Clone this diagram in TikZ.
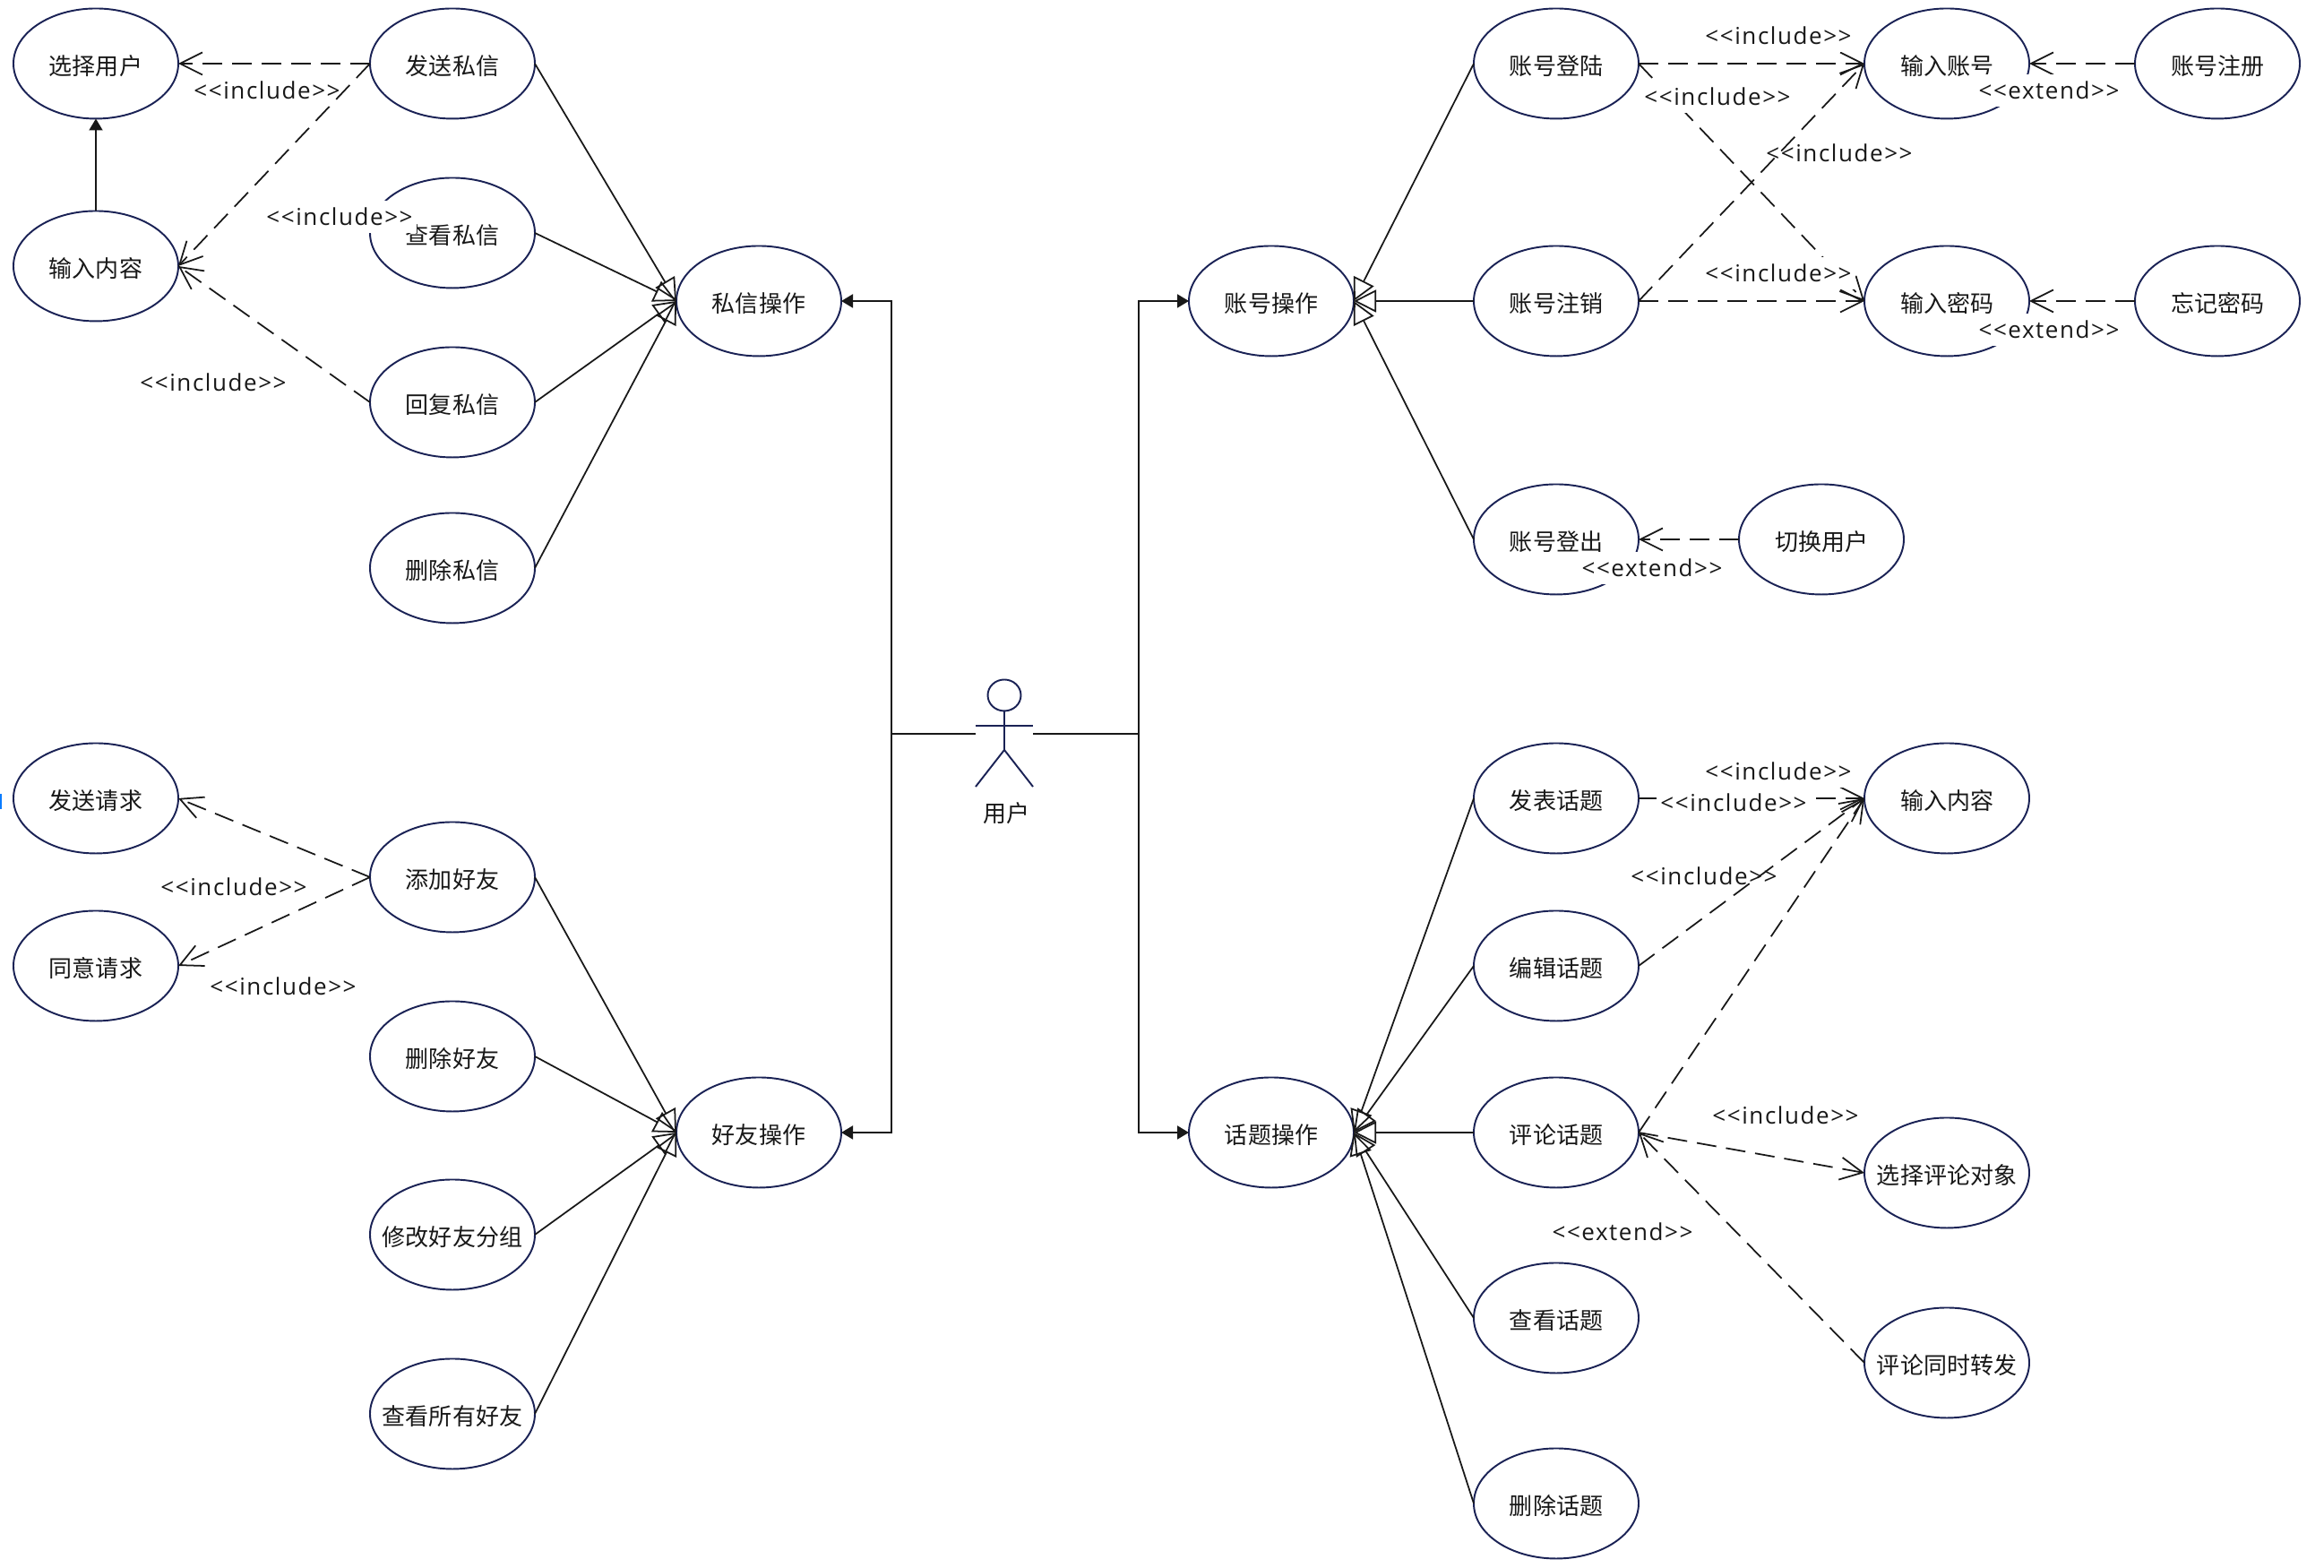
\documentclass[tikz,border=0pt]{standalone}
\usepackage{fontspec}
\setmainfont{Noto Sans CJK SC}
\newfontfamily\relfont[LetterSpace=6,Kerning=Off]{Open Sans}
\usepackage{tikz}
\usetikzlibrary{shapes.geometric,arrows.meta}
\definecolor{inkBlue}{RGB}{26,34,85}
\definecolor{inkText}{RGB}{24,24,24}
\definecolor{markBlue}{RGB}{10,124,255}

\begin{document}
\begin{tikzpicture}[font=\fontsize{7.4}{9}\selectfont,text=inkText,
  usecase/.style={ellipse,minimum width=1.84cm,minimum height=1.23cm,outer sep=0pt,
                  inner xsep=-.3cm,inner ysep=0pt,text height=.29cm,text depth=.03cm,
                  draw=inkBlue,line width=.55pt,fill=white},
  rel/.style={fill=white,inner xsep=.04cm,inner ysep=0pt,minimum height=.36cm,
              font=\fontsize{7.4}{9}\selectfont\relfont},
  dep/.style={inkText,line width=.5pt,dash pattern=on .22cm off .11cm,
              -{Straight Barb[length=.25cm,width=.25cm]}},
  gen/.style={inkText,line width=.5pt,-{Triangle[open,length=.25cm,width=.25cm]}},
  flow/.style={inkText,line width=.55pt,-{Triangle[length=.13cm,width=.15cm]}},
  body/.style={inkBlue,line width=.55pt}]

  \useasboundingbox (0,0) rectangle (25.94,17.5);
  \fill[markBlue] (0,8.47) rectangle (.02,8.64);

  % private messages
  \node[usecase] (selUser)  at (1.07,16.79) {选择用户};
  \node[usecase] (typeMsg)  at (1.07,14.53) {输入内容};
  \node[usecase] (sendMsg)  at (5.05,16.79) {发送私信};
  \node[usecase] (viewMsg)  at (5.05,14.90) {查看私信};
  \node[usecase] (replyMsg) at (5.05,13.01) {回复私信};
  \node[usecase] (delMsg)   at (5.05,11.16) {删除私信};
  \node[usecase] (msgOp)    at (8.47,14.14) {私信操作};

  % friends
  \node[usecase] (sendReq)   at (1.07,8.59) {发送请求};
  \node[usecase] (agreeReq)  at (1.07,6.72) {同意请求};
  \node[usecase] (addFriend) at (5.05,7.71) {添加好友};
  \node[usecase] (delFriend) at (5.05,5.71) {删除好友};
  \node[usecase] (moveGroup) at (5.05,3.72) {修改好友分组};
  \node[usecase] (allFriend) at (5.05,1.72) {查看所有好友};
  \node[usecase] (friendOp)  at (8.47,4.86) {好友操作};

  % account
  \node[usecase] (accOp)      at (14.19,14.14) {账号操作};
  \node[usecase] (login)      at (17.37,16.79) {账号登陆};
  \node[usecase] (cancel)     at (17.37,14.14) {账号注销};
  \node[usecase] (logout)     at (17.37,11.48) {账号登出};
  \node[usecase] (switchUser) at (20.33,11.48) {切换用户};
  \node[usecase] (inAcc)      at (21.73,16.79) {输入账号};
  \node[usecase] (inPwd)      at (21.73,14.14) {输入密码};
  \node[usecase] (register)   at (24.75,16.79) {账号注册};
  \node[usecase] (forgot)     at (24.75,14.14) {忘记密码};

  % topics
  \node[usecase] (topicOp)    at (14.19,4.86) {话题操作};
  \node[usecase] (postTopic)  at (17.37,8.59) {发表话题};
  \node[usecase] (editTopic)  at (17.37,6.72) {编辑话题};
  \node[usecase] (noteTopic)  at (17.37,4.86) {评论话题};
  \node[usecase] (viewTopic)  at (17.37,2.79) {查看话题};
  \node[usecase] (delTopic)   at (17.37,0.72) {删除话题};
  \node[usecase] (inText)     at (21.73,8.59) {输入内容};
  \node[usecase] (pickTarget) at (21.73,4.41) {选择评论对象};
  \node[usecase] (forward)    at (21.73,2.29) {评论同时转发};

  % actor
  \node[ellipse,minimum width=.37cm,minimum height=.35cm,inner sep=0pt,outer sep=0pt,
        draw=inkBlue,line width=.55pt] (head) at (11.21,9.74) {};
  \coordinate (armL)  at (10.89,9.40);
  \coordinate (armR)  at (11.53,9.40);
  \coordinate (hip)   at (11.21,9.13);
  \coordinate (footL) at (10.89,8.72);
  \coordinate (footR) at (11.53,8.72);
  \draw[body] (head.south)--(hip);
  \draw[body] (armL)--(armR);
  \draw[body] (footL)--(hip)--(footR);
  \node (actor) at (11.23,8.42) {用户};

  % labels that lie under their lines
  \node[rel] (lblA) at (2.98,16.49) {<<include>>};
  \node[rel] (lblB) at (20.53,15.79) {<<include>>};
  \node[rel] (lblC) at (19.02,7.72) {<<include>>};

  % actor to the four groups
  \coordinate (handL) at (10.89,9.31);
  \coordinate (handR) at (11.53,9.31);
  \coordinate (trunkL) at (9.95,9.31);
  \coordinate (trunkR) at (12.71,9.31);
  \draw[inkText,line width=.55pt] (handL)--(trunkL);
  \draw[inkText,line width=.55pt] (handR)--(trunkR);
  \draw[flow] (trunkL) |- (msgOp.east);
  \draw[flow] (trunkL) |- (friendOp.east);
  \draw[flow] (trunkR) |- (accOp.west);
  \draw[flow] (trunkR) |- (topicOp.west);
  \draw[flow] (typeMsg.north)--(selUser.south);

  % generalisation
  \foreach \n in {sendMsg,viewMsg,replyMsg,delMsg} {
    \draw[gen] (\n.east)--(msgOp.west);
  }
  \foreach \n in {addFriend,delFriend,moveGroup,allFriend} {
    \draw[gen] (\n.east)--(friendOp.west);
  }
  \foreach \n in {login,cancel,logout} {
    \draw[gen] (\n.west)--(accOp.east);
  }
  \foreach \n in {postTopic,editTopic,noteTopic,viewTopic,delTopic} {
    \draw[gen] (\n.west)--(topicOp.east);
  }

  % include and extend
  \draw[dep] (sendMsg.west)--(selUser.east);
  \draw[dep] (sendMsg.west)--(typeMsg.east);
  \draw[dep] (replyMsg.west)--(typeMsg.east);
  \draw[dep] (addFriend.west)--(sendReq.east);
  \draw[dep] (addFriend.west)--(agreeReq.east);
  \draw[dep] (login.east)--(inAcc.west);
  \draw[dep] (login.east)--(inPwd.west);
  \draw[dep] (cancel.east)--(inAcc.west);
  \draw[dep] (cancel.east)--(inPwd.west);
  \draw[dep] (register.west)--(inAcc.east);
  \draw[dep] (forgot.west)--(inPwd.east);
  \draw[dep] (switchUser.west)--(logout.east);
  \draw[dep] (postTopic.east)--(inText.west);
  \draw[dep] (editTopic.east)--(inText.west);
  \draw[dep] (noteTopic.east)--(inText.west);
  \draw[dep] (noteTopic.east)--(pickTarget.west);
  \draw[dep] (forward.west)--(noteTopic.east);

  % labels over the lines
  \node[rel] (lblD) at (3.79,15.08) {<<include>>};
  \node[rel] (lblE) at (2.38,13.23) {<<include>>};
  \node[rel] (lblF) at (2.61,7.60)  {<<include>>};
  \node[rel] (lblG) at (3.16,6.49)  {<<include>>};
  \node[rel] (lblH) at (19.85,17.10) {<<include>>};
  \node[rel] (lblI) at (19.17,16.42) {<<include>>};
  \node[rel] (lblJ) at (19.85,14.45) {<<include>>};
  \node[rel] (lblK) at (19.85,8.89)  {<<include>>};
  \node[rel] (lblL) at (19.35,8.54)  {<<include>>};
  \node[rel] (lblM) at (19.93,5.05)  {<<include>>};
  \node[rel] (lblN) at (22.87,16.49) {<<extend>>};
  \node[rel] (lblO) at (22.87,13.82) {<<extend>>};
  \node[rel] (lblP) at (18.44,11.16) {<<extend>>};
  \node[rel] (lblQ) at (18.11,3.75)  {<<extend>>};
\end{tikzpicture}
\end{document}
